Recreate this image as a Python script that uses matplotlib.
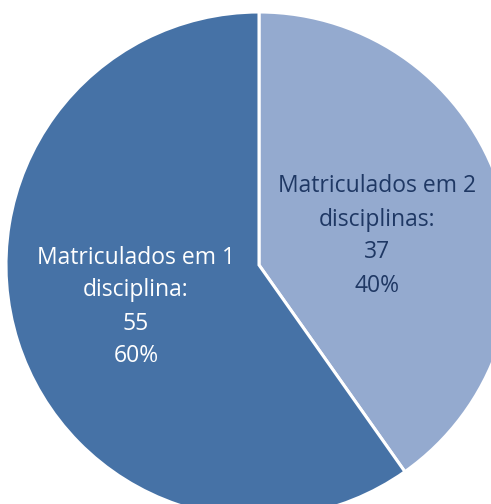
import matplotlib.pyplot as plt

categories = ["Matriculados em 2\ndisciplinas:", "Matriculados em 1\ndisciplina:"]
counts = [37, 55]
colors = ["#94AACF", "#4672A6"]
text_colors = ["#1F3864", "white"]

W, H = 491, 504
fig = plt.figure(figsize=(W / 100, H / 100), dpi=100)
ax = fig.add_axes([0, 0, 1, 1])

cx, cy, r = 259, H - 265, 253
ax.pie(counts, colors=colors, startangle=90, counterclock=False,
       center=(cx, cy), radius=r, frame=True,
       wedgeprops=dict(edgecolor="white", linewidth=2.2))
ax.set_xlim(0, W)
ax.set_ylim(0, H)
ax.set_aspect("equal")
ax.axis("off")

total = sum(counts)
label_pos = [(377, H - 236), (136, H - 307)]
for cat, n, (x, y), tc in zip(categories, counts, label_pos, text_colors):
    pct = round(100 * n / total)
    ax.text(x, y, f"{cat}\n{n}\n{pct}%", ha="center", va="center",
            color=tc, fontsize=16.5, family="Open Sans", linespacing=1.5)

fig.savefig("out.png", dpi=100)
